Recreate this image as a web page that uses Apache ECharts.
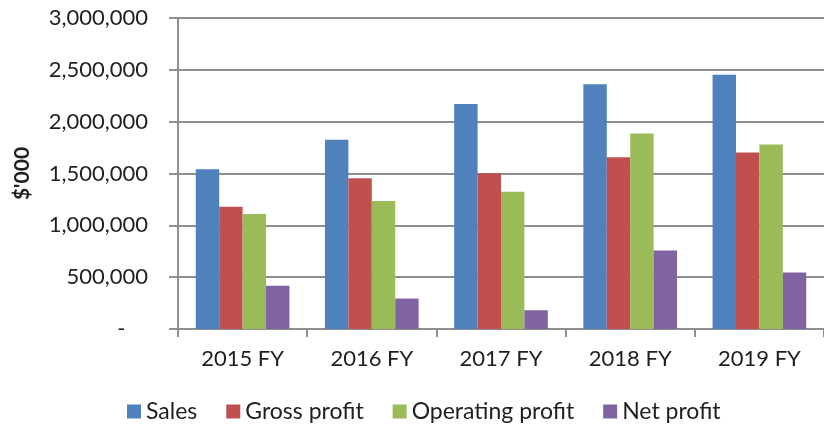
<!DOCTYPE html>
<html>
<head>
<meta charset="utf-8">
<script src="https://cdn.jsdelivr.net/npm/echarts@6/dist/echarts.min.js"></script>
<style>
  html, body { margin: 0; padding: 0; background: #fff; }
  #chart { width: 824px; height: 427px; }
</style>
</head>
<body>
<div id="chart"></div>
<script>
const years = ['2015 FY', '2016 FY', '2017 FY', '2018 FY', '2019 FY']
const sales = [1540000, 1825000, 2170000, 2362000, 2452000]
const grossProfit = [1180000, 1455000, 1502000, 1657000, 1702000]
const operatingProfit = [1110000, 1235000, 1325000, 1885000, 1780000]
const netProfit = [416000, 294000, 181000, 758000, 545000]

const textColor = '#1f1f1f'
const lineColor = '#8e8e8e'

const chart = echarts.init(document.getElementById('chart'))

const fmt = (v) => {
  if (v === 0) return '-    '
  return v.toLocaleString('en-US')
}

const bar = (name, data, color) => ({
  name,
  type: 'bar',
  data,
  barGap: 0,
  barCategoryGap: '27.5%',
  itemStyle: { color }
})

chart.setOption({
  animation: false,
  textStyle: { fontFamily: 'Lato' },
  grid: {
    left: 178,
    right: -7,
    top: 18,
    bottom: 98,
    containLabel: false
  },
  legend: {
    left: 127,
    top: 400,
    padding: 0,
    itemGap: 29,
    itemWidth: 14,
    itemHeight: 14,
    icon: 'rect',
    textStyle: { color: textColor, fontSize: 23, fontFamily: 'Lato' },
    data: ['Sales', 'Gross profit', 'Operating profit', 'Net profit']
  },
  xAxis: {
    type: 'category',
    data: years,
    axisLine: { lineStyle: { color: lineColor, width: 2 } },
    axisTick: { show: true, length: 8, lineStyle: { color: lineColor, width: 2 } },
    axisLabel: { color: textColor, fontSize: 22, margin: 19, fontFamily: 'Lato' }
  },
  yAxis: {
    type: 'value',
    min: 0,
    max: 3000000,
    interval: 500000,
    name: "$'000",
    nameLocation: 'middle',
    nameGap: 145,
    nameTextStyle: { color: textColor, fontSize: 21, fontWeight: 'bold', fontFamily: 'Lato' },
    axisLine: { show: true, lineStyle: { color: lineColor, width: 2 } },
    axisTick: { show: true, length: 9, lineStyle: { color: lineColor, width: 2 } },
    axisLabel: { color: textColor, fontSize: 22, margin: 30, fontFamily: 'Lato', formatter: fmt },
    splitLine: { lineStyle: { color: lineColor, width: 2 } }
  },
  series: [
    bar('Sales', sales, '#4f81bd'),
    bar('Gross profit', grossProfit, '#c0504d'),
    bar('Operating profit', operatingProfit, '#9bbb59'),
    bar('Net profit', netProfit, '#8064a2')
  ]
})
</script>
</body>
</html>
